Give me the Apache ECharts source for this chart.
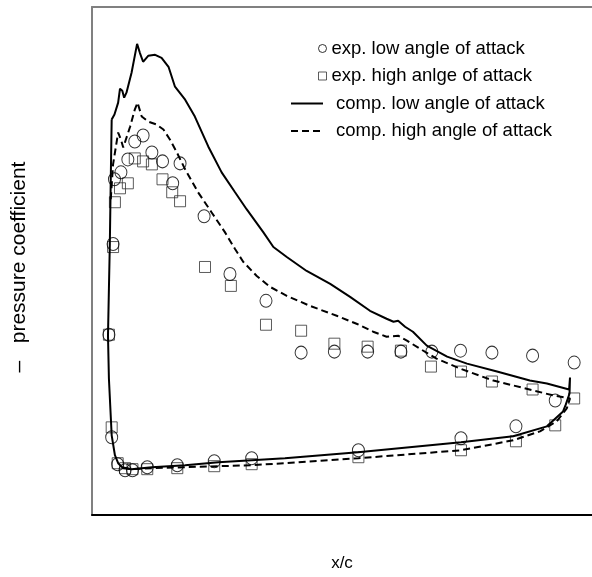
<!DOCTYPE html>
<html>
<head>
<meta charset="utf-8">
<script src="https://cdn.jsdelivr.net/npm/echarts@6/dist/echarts.min.js"></script>
<style>
  html, body { margin: 0; padding: 0; background: #fff; }
  #chart { width: 592px; height: 577px; }
</style>
</head>
<body>
<div id="chart"></div>
<script>
// series names (legend text kept as in the original figure)
const NAME_EXP_LOW = "exp. low angle of attack";
const NAME_EXP_HIGH = "exp. high anlge of attack";
const NAME_COMP_LOW = "comp. low angle of attack";
const NAME_COMP_HIGH = "comp. high angle of attack";

const expLow = [
  [0.002, 0.84], [0.011, 1.75], [0.014, 2.40], [0.028, 2.47], [0.043, 2.60],
  [0.058, 2.78], [0.076, 2.84], [0.095, 2.67], [0.118, 2.58], [0.140, 2.36],
  [0.156, 2.56], [0.208, 2.03], [0.264, 1.45], [0.342, 1.18], [0.418, 0.66],
  [0.490, 0.67], [0.562, 0.67], [0.634, 0.67], [0.701, 0.67], [0.763, 0.68],
  [0.831, 0.66], [0.919, 0.63], [1.009, 0.56],
  [0.968, 0.18], [0.883, -0.08], [0.764, -0.20], [0.542, -0.32], [0.311, -0.40],
  [0.230, -0.43], [0.150, -0.47], [0.085, -0.49], [0.053, -0.52], [0.037, -0.52],
  [0.021, -0.46], [0.008, -0.19]
];

const expHigh = [
  [0.002, 0.84], [0.011, 1.72], [0.015, 2.17], [0.026, 2.31], [0.043, 2.36],
  [0.058, 2.61], [0.076, 2.58], [0.095, 2.55], [0.118, 2.40], [0.139, 2.27],
  [0.156, 2.18], [0.210, 1.52], [0.266, 1.33], [0.342, 0.94], [0.418, 0.88],
  [0.490, 0.75], [0.562, 0.72], [0.634, 0.68], [0.699, 0.52], [0.764, 0.47],
  [0.831, 0.37], [0.919, 0.29], [1.009, 0.20],
  [0.968, -0.07], [0.883, -0.23], [0.764, -0.32], [0.542, -0.39], [0.311, -0.46],
  [0.230, -0.48], [0.150, -0.50], [0.085, -0.51], [0.053, -0.51], [0.037, -0.50],
  [0.021, -0.45], [0.008, -0.09]
];

// computed distributions, traced as one path round the profile
const compLow = [
  [0.008, 3.00], [0.014, 3.05], [0.022, 3.17], [0.026, 3.31], [0.031, 3.29],
  [0.035, 3.22], [0.040, 3.27], [0.051, 3.47], [0.063, 3.76], [0.069, 3.67],
  [0.076, 3.58], [0.087, 3.64], [0.102, 3.65], [0.116, 3.62], [0.131, 3.53],
  [0.145, 3.33], [0.167, 3.20], [0.188, 3.03], [0.217, 2.73], [0.246, 2.47],
  [0.275, 2.27], [0.300, 2.10], [0.336, 1.87], [0.358, 1.72], [0.387, 1.62],
  [0.430, 1.48], [0.481, 1.35], [0.524, 1.22], [0.567, 1.08], [0.603, 1.00],
  [0.618, 0.97], [0.628, 0.98], [0.643, 0.92], [0.660, 0.87], [0.690, 0.73],
  [0.734, 0.62], [0.777, 0.55], [0.842, 0.47], [0.913, 0.38], [0.950, 0.35],
  [0.998, 0.29], [1.000, 0.41], [0.999, 0.25], [0.991, 0.14], [0.985, 0.07],
  [0.950, -0.08], [0.877, -0.18], [0.764, -0.24], [0.541, -0.34], [0.383, -0.40],
  [0.311, -0.42], [0.239, -0.44], [0.167, -0.47], [0.095, -0.49], [0.051, -0.51],
  [0.033, -0.50], [0.022, -0.45], [0.015, -0.37], [0.008, -0.17], [0.002, 0.40],
  [0.000, 0.83], [0.002, 1.30], [0.004, 1.75], [0.006, 2.40], [0.008, 3.00]
];

const compHigh = [
  [0.006, 2.20], [0.011, 2.55], [0.022, 2.87], [0.028, 2.80], [0.033, 2.72],
  [0.048, 2.93], [0.058, 3.10], [0.064, 3.17], [0.073, 3.03], [0.087, 2.98],
  [0.105, 2.95], [0.120, 2.90], [0.134, 2.80], [0.149, 2.67], [0.167, 2.50],
  [0.195, 2.27], [0.224, 2.07], [0.253, 1.87], [0.275, 1.70], [0.293, 1.57],
  [0.322, 1.43], [0.351, 1.32], [0.387, 1.23], [0.437, 1.13], [0.495, 1.03],
  [0.538, 0.95], [0.574, 0.87], [0.603, 0.82], [0.628, 0.83], [0.647, 0.78],
  [0.675, 0.70], [0.711, 0.60], [0.762, 0.50], [0.834, 0.38], [0.921, 0.28],
  [0.964, 0.23], [1.000, 0.20], [0.993, 0.10], [0.971, -0.03], [0.935, -0.13],
  [0.877, -0.22], [0.764, -0.32], [0.542, -0.40], [0.383, -0.45], [0.311, -0.47],
  [0.239, -0.48], [0.167, -0.49], [0.095, -0.50], [0.051, -0.51], [0.030, -0.49]
];

const FONT = "'Liberation Sans', Arial, sans-serif";
const xRange = [-0.0346, 1.0476];
const yRange = [-0.97, 4.13];

const chart = echarts.init(document.getElementById("chart"), null, { renderer: "canvas" });

const hollow = { color: "rgba(0,0,0,0)", borderColor: "#000", borderWidth: 1 };

chart.setOption({
  animation: false,
  backgroundColor: "#fff",
  grid: { left: 92, right: 0, top: 7, bottom: 60, containLabel: false },
  legend: [
    {
      data: [
        { name: NAME_EXP_LOW, icon: "circle", itemStyle: hollow },
        { name: NAME_EXP_HIGH, icon: "rect", itemStyle: { color: "rgba(0,0,0,0)", borderColor: "#333", borderWidth: 1 } }
      ],
      orient: "vertical",
      left: 318,
      top: 39,
      padding: 0,
      itemWidth: 8,
      itemHeight: 8,
      itemGap: 8.5,
      textStyle: { fontFamily: FONT, fontSize: 18.5, color: "#000" }
    },
    {
      data: [
        { name: NAME_COMP_LOW, itemStyle: { opacity: 0 } },
        { name: NAME_COMP_HIGH, itemStyle: { opacity: 0 } }
      ],
      orient: "vertical",
      left: 290,
      top: 94,
      padding: 0,
      itemWidth: 32,
      itemHeight: 10,
      itemGap: 8.5,
      textStyle: { fontFamily: FONT, fontSize: 18.5, color: "#000", padding: [0, 0, 0, 8] }
    }
  ],
  xAxis: [
    {
      type: "value",
      min: xRange[0],
      max: xRange[1],
      name: "x/c",
      nameLocation: "middle",
      nameGap: 40,
      nameTextStyle: { fontFamily: FONT, fontSize: 17, color: "#000" },
      axisLine: { show: true, onZero: false, lineStyle: { color: "#000", width: 2 } },
      axisTick: { show: false },
      axisLabel: { show: false },
      splitLine: { show: false }
    },
    {
      type: "value",
      position: "top",
      min: xRange[0],
      max: xRange[1],
      axisLine: { show: true, onZero: false, lineStyle: { color: "#808080", width: 2 } },
      axisTick: { show: false },
      axisLabel: { show: false },
      splitLine: { show: false }
    }
  ],
  yAxis: {
    type: "value",
    min: yRange[0],
    max: yRange[1],
    name: "–   pressure coefficient",
    nameLocation: "middle",
    nameGap: 62,
    nameTextStyle: { fontFamily: FONT, fontSize: 21, color: "#000", padding: [0, 12, 0, 0] },
    axisLine: { show: true, onZero: false, lineStyle: { color: "#808080", width: 2 } },
    axisTick: { show: false },
    axisLabel: { show: false },
    splitLine: { show: false }
  },
  series: [
    {
      name: NAME_COMP_LOW,
      type: "line",
      data: compLow,
      symbol: "none",
      showSymbol: false,
      clip: false,
      lineStyle: { color: "#000", width: 2 },
      itemStyle: { color: "#000" }
    },
    {
      name: NAME_COMP_HIGH,
      type: "line",
      data: compHigh,
      symbol: "none",
      showSymbol: false,
      clip: false,
      lineStyle: { color: "#000", width: 2, type: [7, 4] },
      itemStyle: { color: "#000" }
    },
    {
      name: NAME_EXP_HIGH,
      type: "scatter",
      data: expHigh,
      symbol: "rect",
      symbolSize: 11,
      itemStyle: { color: "rgba(0,0,0,0)", borderColor: "#333", borderWidth: 1 }
    },
    {
      name: NAME_EXP_LOW,
      type: "scatter",
      data: expLow,
      symbol: "circle",
      symbolSize: [12, 13],
      itemStyle: hollow
    }
  ]
});
</script>
</body>
</html>
